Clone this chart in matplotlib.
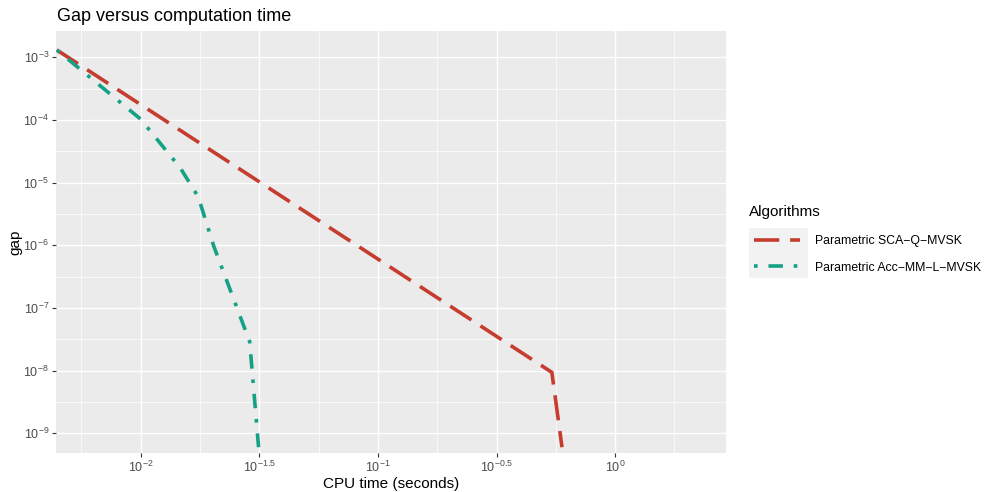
import matplotlib
matplotlib.use("Agg")
import matplotlib.pyplot as plt
from matplotlib.lines import Line2D
from matplotlib.patches import Rectangle

plt.rcParams["font.family"] = ["Liberation Sans", "DejaVu Sans"]
plt.rcParams["mathtext.fontset"] = "custom"
plt.rcParams["mathtext.rm"] = "Liberation Sans"
plt.rcParams["mathtext.it"] = "Liberation Sans:italic"
plt.rcParams["mathtext.bf"] = "Liberation Sans:bold"

# CPU time (seconds) and gap reached by each algorithm
sca_time = [0.00443, 0.541, 0.597]
sca_gap = [1.31e-3, 9.4e-9, 6.0e-10]
acc_time = [0.00443, 0.0100, 0.0147, 0.0175, 0.0203, 0.0288, 0.0314]
acc_gap = [1.31e-3, 1.03e-4, 1.71e-5, 5.9e-6, 9.8e-7, 2.9e-8, 6.0e-10]

algorithms = ["Parametric SCA\u2212Q\u2212MVSK", "Parametric Acc\u2212MM\u2212L\u2212MVSK"]
colors = ["#C63D2F", "#16A085"]
styles = [(0, (7, 3)), (0, (1, 3, 4, 3))]

x_major = [-2, -1.5, -1, -0.5, 0]
x_minor = [-2.25, -1.75, -1.25, -0.75, -0.25, 0.25]
y_major = [-3, -4, -5, -6, -7, -8, -9]
y_minor = [-3.5, -4.5, -5.5, -6.5, -7.5, -8.5]

W, H = 987, 492
fig = plt.figure(figsize=(W / 100, H / 100), dpi=100)
ax = fig.add_axes([56 / W, 1 - 453 / H, (725.7 - 56) / W, (453 - 31) / H])
ax.set_facecolor("#EBEBEB")

for t, g, c, ls in [(sca_time, sca_gap, colors[0], styles[0]),
                    (acc_time, acc_gap, colors[1], styles[1])]:
    ax.plot(t, g, color=c, lw=2.6, linestyle=ls)

ax.set_xscale("log")
ax.set_yscale("log")
ax.set_xlim(10 ** -2.357, 10 ** 0.466)
ax.set_ylim(10 ** -9.314, 10 ** -2.58)

ax.set_xticks([10 ** v for v in x_major])
ax.set_xticklabels(["$10^{%g}$" % v for v in x_major])
ax.set_xticks([10 ** v for v in x_minor], minor=True)
ax.set_yticks([10 ** v for v in y_major])
ax.set_yticklabels(["$10^{%g}$" % v for v in y_major])
ax.set_yticks([10 ** v for v in y_minor], minor=True)
ax.xaxis.set_minor_formatter(matplotlib.ticker.NullFormatter())
ax.yaxis.set_minor_formatter(matplotlib.ticker.NullFormatter())

ax.tick_params(which="major", length=2.75, width=0.8, color="#333333",
               labelcolor="#4D4D4D", labelsize=9, pad=2.2)
ax.tick_params(which="minor", length=0)
for s in ax.spines.values():
    s.set_visible(False)
ax.grid(which="major", color="white", lw=1.0)
ax.grid(which="minor", color="white", lw=0.5)
ax.set_axisbelow(True)

# axis titles and plot title
fig.text(391 / W, 1 - 488 / H, "CPU time (seconds)", fontsize=11,
         ha="center", va="baseline")
fig.text(15 / W, 1 - 242 / H, "gap", fontsize=11, rotation=90,
         ha="center", va="center")
fig.text(57 / W, 1 - 21 / H, "Gap versus computation time", fontsize=13,
         va="baseline", ha="left")

# legend
fig.text(749 / W, 1 - 216 / H, "Algorithms", fontsize=11, va="baseline", ha="left")
fig.patches.append(Rectangle((749 / W, 1 - 277.5 / H), 59 / W, 49.5 / H,
                             transform=fig.transFigure, facecolor="#F2F2F2",
                             edgecolor="none", zorder=0))
handles = [Line2D([], [], color=c, lw=2.6, linestyle=ls) for c, ls in zip(colors, styles)]
fig.legend(handles, algorithms, loc="upper left",
           bbox_to_anchor=(754 / W, 1 - 235 / H), frameon=False, fontsize=8.8,
           handlelength=3.8, handletextpad=1.2, borderpad=0, borderaxespad=0,
           labelspacing=1.2)

fig.savefig("out.png", dpi=100)
